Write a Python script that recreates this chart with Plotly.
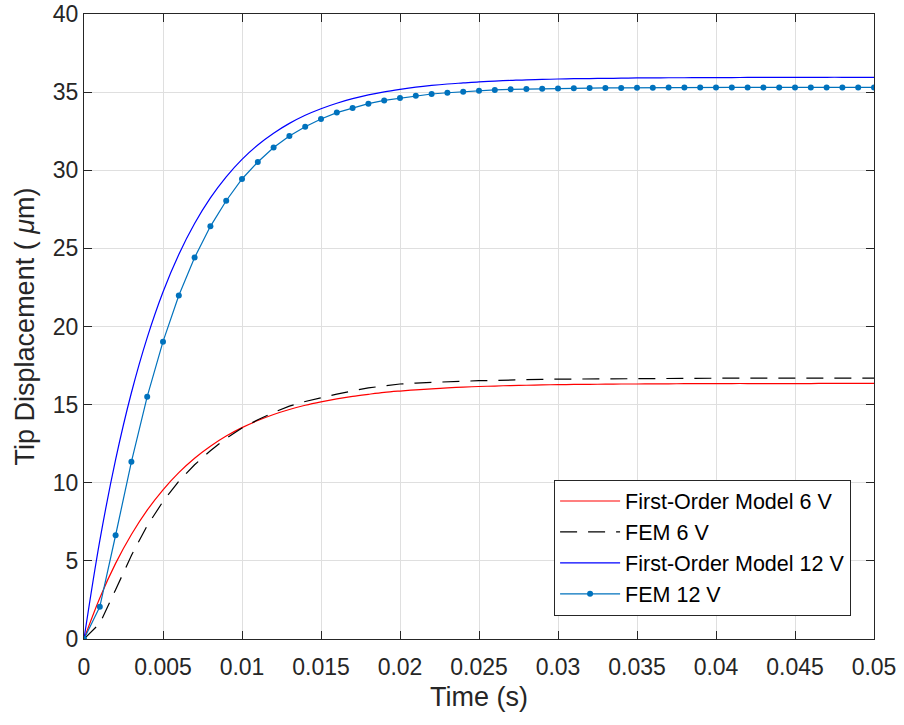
import plotly.graph_objects as go

# Time base shared by all series (s)
time_s = [round(k * 0.001, 3) for k in range(51)]

# First-order model response at 6 V (um)
model_6v = [0, 2.63, 4.84, 6.69, 8.25, 9.55, 10.65, 11.57, 12.34, 12.99, 13.53,
            13.98, 14.37, 14.69, 14.96, 15.18, 15.37, 15.53, 15.66, 15.78, 15.87,
            15.95, 16.01, 16.07, 16.12, 16.16, 16.19, 16.22, 16.24, 16.26, 16.28,
            16.29, 16.30, 16.31, 16.32, 16.32, 16.33, 16.33, 16.34, 16.34, 16.34,
            16.35, 16.35, 16.35, 16.35, 16.35, 16.35, 16.36, 16.36, 16.36, 16.36]

# FEM response at 6 V (um)
fem_6v = [0, 1.0, 3.15, 5.35, 7.25, 8.8, 10.1, 11.15, 12.05, 12.85, 13.5,
          14.03, 14.5, 14.9, 15.2, 15.45, 15.67, 15.88, 16.07, 16.2, 16.32,
          16.38, 16.43, 16.47, 16.5, 16.53, 16.56, 16.58, 16.6, 16.62, 16.63,
          16.64, 16.65, 16.66, 16.67, 16.67, 16.68, 16.68, 16.68, 16.69, 16.69,
          16.69, 16.69, 16.69, 16.69, 16.69, 16.69, 16.69, 16.69, 16.69, 16.69]

# First-order model response at 12 V (um)
model_12v = [0, 6.29, 11.48, 15.76, 19.29, 22.21, 24.61, 26.59, 28.23, 29.58, 30.70,
             31.62, 32.37, 33.00, 33.52, 33.94, 34.29, 34.58, 34.82, 35.02, 35.18,
             35.32, 35.43, 35.52, 35.59, 35.66, 35.71, 35.75, 35.79, 35.81, 35.84,
             35.86, 35.87, 35.88, 35.89, 35.91, 35.91, 35.92, 35.92, 35.93, 35.93,
             35.93, 35.94, 35.94, 35.94, 35.94, 35.94, 35.95, 35.95, 35.95, 35.95]

# FEM response at 12 V (um)
fem_12v = [0, 2.06, 6.64, 11.34, 15.51, 19.03, 21.98, 24.41, 26.41, 28.05, 29.44,
           30.53, 31.45, 32.19, 32.79, 33.28, 33.69, 33.98, 34.26, 34.47, 34.62,
           34.77, 34.88, 34.96, 35.03, 35.09, 35.14, 35.18, 35.20, 35.22, 35.24,
           35.25, 35.26, 35.27, 35.27, 35.28, 35.28, 35.29, 35.29, 35.29, 35.30,
           35.30, 35.30, 35.30, 35.30, 35.30, 35.30, 35.30, 35.30, 35.30, 35.30]

x_tick_vals = [0, 0.005, 0.01, 0.015, 0.02, 0.025, 0.03, 0.035, 0.04, 0.045, 0.05]
x_tick_text = ["0", "0.005", "0.01", "0.015", "0.02", "0.025", "0.03", "0.035",
               "0.04", "0.045", "0.05"]
y_tick_vals = [0, 5, 10, 15, 20, 25, 30, 35, 40]

FONT = "Liberation Sans, Arial, Helvetica, sans-serif"
AXIS_COLOR = "#262626"
GRID_COLOR = "#DFDFDF"

fig = go.Figure()
fig.add_trace(go.Scatter(
    x=time_s, y=model_6v, mode="lines", name="First-Order Model 6 V",
    line=dict(color="#FF0000", width=1.2, shape="spline"),
))
fig.add_trace(go.Scatter(
    x=time_s, y=fem_6v, mode="lines", name="FEM 6 V",
    line=dict(color="#000000", width=1.2, dash="17px,11px"),
))
fig.add_trace(go.Scatter(
    x=time_s, y=model_12v, mode="lines", name="First-Order Model 12 V",
    line=dict(color="#0000FF", width=1.2, shape="spline"),
))
fig.add_trace(go.Scatter(
    x=time_s, y=fem_12v, mode="lines+markers", name="FEM 12 V",
    line=dict(color="#0072BD", width=1.2),
    marker=dict(color="#0072BD", size=6),
))

axis_common = dict(
    ticks="inside", ticklen=8, tickwidth=1, tickcolor=AXIS_COLOR,
    showline=True, linecolor=AXIS_COLOR, linewidth=1, mirror="allticks",
    showgrid=True, gridcolor=GRID_COLOR, gridwidth=1, zeroline=False,
    tickfont=dict(family=FONT, size=23, color=AXIS_COLOR),
    automargin=False,
)

fig.update_layout(
    width=904, height=725,
    margin=dict(l=84, r=30, t=14, b=86),
    paper_bgcolor="white", plot_bgcolor="white",
    font=dict(family=FONT, color=AXIS_COLOR),
    showlegend=True,
    legend=dict(
        x=0.971, y=0.0376, xanchor="right", yanchor="bottom",
        bgcolor="white", bordercolor=AXIS_COLOR, borderwidth=1,
        font=dict(family=FONT, size=21.5, color="#000000"),
        itemwidth=60,
    ),
    xaxis=dict(
        range=[0, 0.05], tickvals=x_tick_vals, ticktext=x_tick_text,
        ticklabelstandoff=7,
        title=dict(text="Time (s)", font=dict(family=FONT, size=27, color=AXIS_COLOR),
                   standoff=8),
        **axis_common,
    ),
    yaxis=dict(
        range=[0, 40], tickvals=y_tick_vals,
        title=dict(text="Tip Displacement ( <i>\u03bc</i>m)",
                   font=dict(family=FONT, size=27, color=AXIS_COLOR), standoff=10),
        **axis_common,
    ),
)

fig.write_html("out.html")
